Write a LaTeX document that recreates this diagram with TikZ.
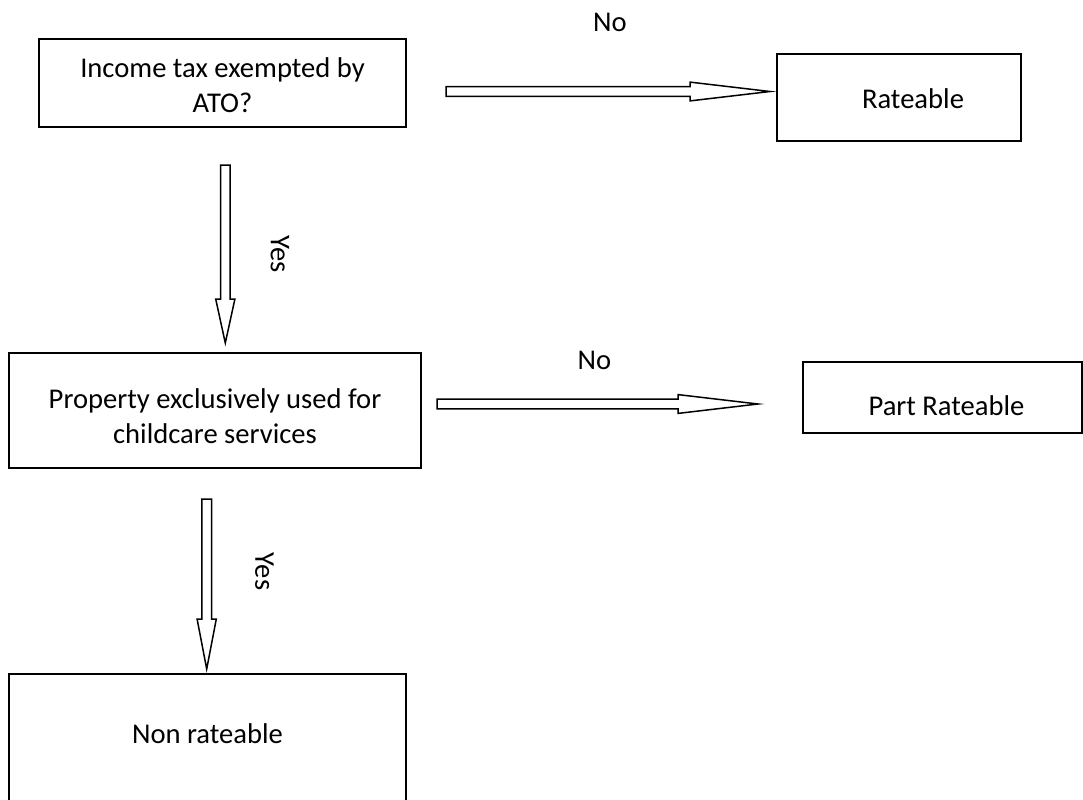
\documentclass[tikz,border=0pt]{standalone}
\usepackage{fontspec}
\setmainfont{Carlito}
\usetikzlibrary{calc}

\tikzset{
  box/.style={draw, line width=1pt, align=center, inner sep=0pt, outer sep=0pt, text depth=0pt},
  lbl/.style={inner sep=0pt},
  % hollow block arrows, pointing right / down
  rblock/.style={draw, line width=0.75pt, to path={let \p1=(\tikztostart), \p2=(\tikztotarget) in
    (\x1,\y1+2.4pt) -- (\x2-#1,\y1+2.4pt) -- (\x2-#1,\y1+4.7pt) -- (\x2,\y1)
    -- (\x2-#1,\y1-4.7pt) -- (\x2-#1,\y1-2.4pt) -- (\x1,\y1-2.4pt) -- cycle}},
  rblock/.default=40pt,
  dblock/.style={draw, line width=0.75pt, to path={let \p1=(\tikztostart), \p2=(\tikztotarget) in
    (\x1-2.4pt,\y1) -- (\x1-2.4pt,\y2+#1) -- (\x1-4.8pt,\y2+#1) -- (\x1,\y2)
    -- (\x1+4.8pt,\y2+#1) -- (\x1+2.4pt,\y2+#1) -- (\x1+2.4pt,\y1) -- cycle}},
  dblock/.default=23pt
}

\begin{document}
\begin{tikzpicture}[x=0.5pt, y=-0.5pt, every node/.style={font=\fontsize{14.3pt}{17.5pt}\selectfont}]
\path[use as bounding box] (0,0) rectangle (1083,799);
\clip (0,0) rectangle (1083,799);

\node (inc) [box, minimum width=183.5pt, minimum height=44pt, text height=29pt] at (222.5,83) {Income tax exempted by\\ATO?};
\node (rate) [box, minimum width=122pt, minimum height=43.5pt, text height=10.5pt] at (899,97.5) {\hspace*{14pt}Rateable};
\node (prop) [box, minimum width=206pt, minimum height=57.5pt, text height=32.5pt] at (215,410.5) {Property exclusively used for\\childcare services};
\node (part) [box, minimum width=139.5pt, minimum height=35.5pt, text height=17.5pt] at (942.5,397.5) {\hspace*{4pt}Part Rateable};
\node (non) [box, minimum width=198.5pt, minimum height=70pt, text height=0pt, text depth=1pt] at (207.5,744) {Non rateable};

\draw[rblock] ([xshift=20pt,yshift=-4.25pt]inc.east) to ([xshift=-3.5pt]rate.west);
\draw[dblock=22pt] ([xshift=1.4pt,yshift=-19pt]inc.south) to ([yshift=5pt]prop.north);
\draw[rblock] ([xshift=8pt,yshift=3.25pt]prop.east) to ([xshift=-22.5pt]part.west);
\draw[dblock=25pt] ([xshift=-4.15pt,yshift=-15.5pt]prop.south) to ([yshift=2.5pt]non.north);

\node (no1) [lbl] at (610,22) {No};
\node (yes1) [lbl, rotate=-90] at (280,254) {Yes};
\node (no2) [lbl] at (594.5,360.5) {No};
\node (yes2) [lbl, rotate=-90] at (264.5,571.5) {Yes};
\end{tikzpicture}
\end{document}
